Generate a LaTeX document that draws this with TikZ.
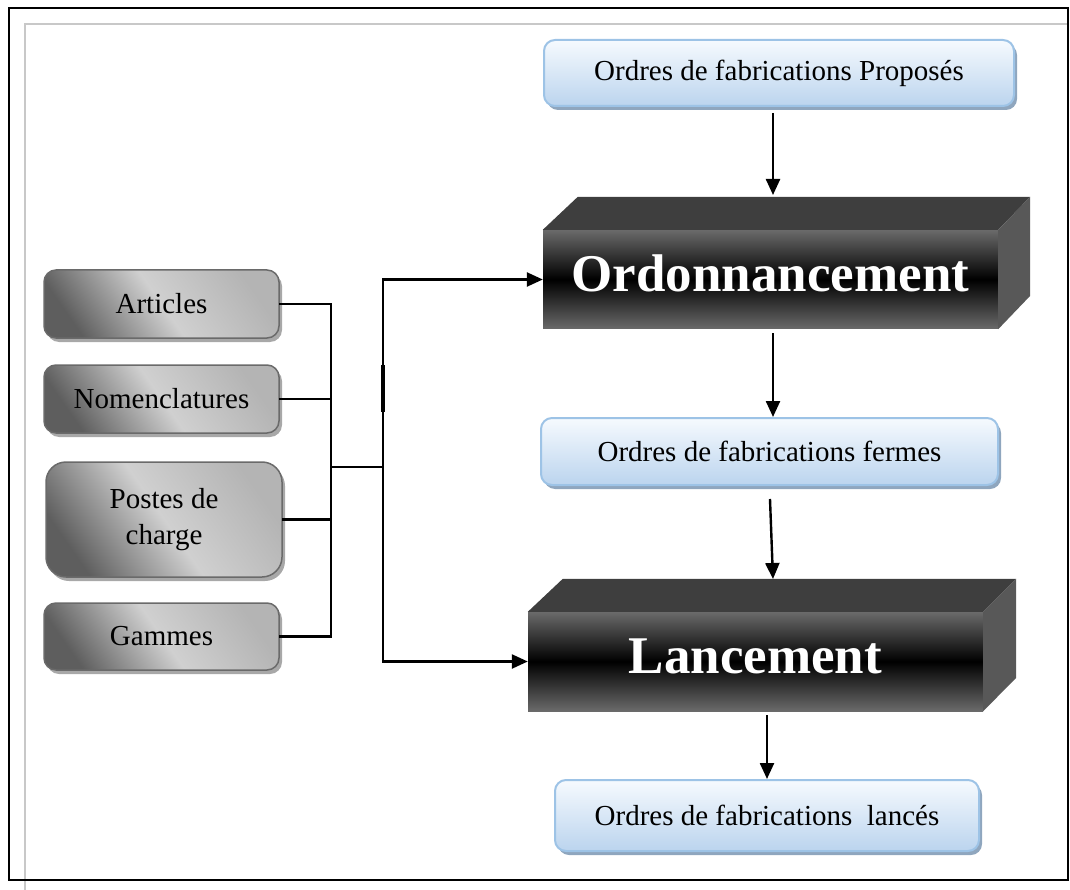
\documentclass[tikz,border=0pt]{standalone}
\usepackage{fontspec}
\setmainfont{Liberation Serif}
\usetikzlibrary{arrows.meta,shadows,calc}

\definecolor{framegray}{HTML}{C8C8C8}
\definecolor{blueedge}{HTML}{9DC3E6}
\definecolor{bluetop}{HTML}{F6FAFE}
\definecolor{bluebot}{HTML}{BBD4EE}
\definecolor{blueshadow}{HTML}{8FA6BE}
\definecolor{greyedge}{HTML}{6A6A6A}
\definecolor{greydark}{HTML}{5E5E5E}
\definecolor{greylight}{HTML}{D0D0D0}
\definecolor{greyright}{HTML}{B4B4B4}
\definecolor{greyshadow}{HTML}{A8A8A8}
\definecolor{boxtop}{HTML}{3E3E3E}
\definecolor{boxside}{HTML}{585858}
\definecolor{boxface}{HTML}{6A6A6A}

\begin{document}
\begin{tikzpicture}[x=1pt,y=-1pt,
  txt/.style={font=\fontsize{29}{36}\selectfont},
  bluebox/.style={txt, draw=blueedge, line width=2pt, rounded corners=11pt,
    top color=bluetop, bottom color=bluebot, inner sep=0pt,
    drop shadow={shadow xshift=3pt, shadow yshift=-4pt, fill=blueshadow, opacity=1}},
  greybox/.style={txt, draw=greyedge, line width=1.5pt, rounded corners=12pt,
    left color=greydark, right color=greyright, middle color=greylight,
    shading angle=125, inner sep=0pt, align=center,
    drop shadow={shadow xshift=3pt, shadow yshift=-4pt, fill=greyshadow, opacity=1}},
  frontface/.style={minimum width=455pt, minimum height=99pt, inner sep=0pt,
    top color=boxface, bottom color=boxface, middle color=black,
    text=white, font=\fontsize{53}{60}\selectfont\bfseries,
    text height=36pt, text depth=12pt},
  conn/.style={line width=2.2pt, line cap=rect},
  arr/.style={line width=2.4pt, -{Triangle[length=16pt,width=14pt]}}
]
\useasboundingbox (0,0) rectangle (1070,890);

% page frames
\draw[framegray, line width=2pt] (25,890) -- (25,24) -- (1068,24);
\draw[black, line width=2pt] (9,8) rectangle (1068,880);

% data boxes on the left
\node[greybox, minimum width=235pt, minimum height=68pt] (art) at (161.5,304) {Articles};
\node[greybox, minimum width=235pt, minimum height=68pt] (nom) at (161.5,399) {Nomenclatures};
\node[greybox, minimum width=236pt, minimum height=115pt, rounded corners=20pt] (pos) at (164,519.5) {Postes de\\charge};
\node[greybox, minimum width=235pt, minimum height=67pt] (gam) at (161.5,636.5) {Gammes};

% order boxes
\node[bluebox, minimum width=470pt, minimum height=66pt] (prop) at (779,73) {Ordres de fabrications Proposés};
\node[bluebox, minimum width=457pt, minimum height=67pt] (ferm) at (769.5,451.5) {Ordres de fabrications fermes};
\node[bluebox, minimum width=424pt, minimum height=71pt] (lanc) at (767,815.5) {Ordres de fabrications \ lancés};

% 3D process blocks
\node[frontface] (ord) at (770.5,279.5) {Ordonnancement};
\fill[boxtop] (ord.north west) -- ++(35,-33) -- ($(ord.north east)+(32,-33)$) -- (ord.north east) -- cycle;
\fill[boxside] (ord.north east) -- ++(32,-33) -- ++(0,99) -- (ord.south east) -- cycle;

\node[frontface] (lan) at (755.5,661.5) {Lancement};
\fill[boxtop] (lan.north west) -- ++(35,-33) -- ($(lan.north east)+(33,-33)$) -- (lan.north east) -- cycle;
\fill[boxside] (lan.north east) -- ++(33,-33) -- ++(0,99) -- (lan.south east) -- cycle;

\coordinate (ordtop) at (773,195);
\coordinate (lantop) at (773,579);
\coordinate (jn) at (331,467);
\coordinate (jn2) at (383,467);
\coordinate (mk1) at (383,365);
\coordinate (mk2) at (383,412);

% collecting bus from the data boxes
\draw[conn] (art.east) -- (art.east -| jn) -- (gam.east -| jn) -- (gam.east);
\draw[conn] (nom.east) -- (nom.east -| jn);
\draw[conn] (pos.east) -- (pos.east -| jn);
\draw[conn] (jn) -- (jn2);
\draw[arr] (jn2) |- (ord.west);
\draw[arr] (jn2) |- (lan.west);
\draw[line width=4pt] (mk1) -- (mk2);

% main flow
\draw[arr, shorten <=6pt] (ordtop |- prop.south) -- (ordtop);
\draw[arr, shorten <=4pt] (ordtop |- ord.south) -- (ordtop |- ferm.north);
\draw[arr, shorten <=13pt] (ferm.south) -- (lantop);
\draw[arr, shorten <=4pt] (lanc.north |- lan.south) -- (lanc.north);
\end{tikzpicture}
\end{document}
